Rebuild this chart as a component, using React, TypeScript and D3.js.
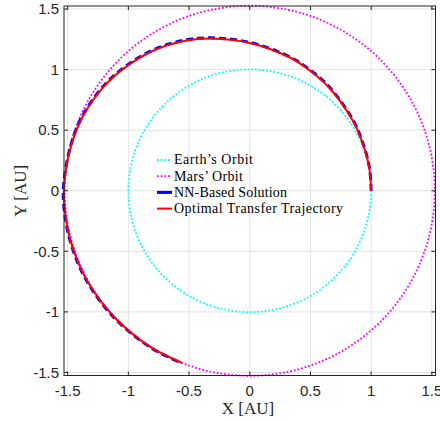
import React from "react";
import * as d3 from "d3";

const tickValues = [-1.5, -1, -0.5, 0, 0.5, 1, 1.5];
const tickLabels = ["-1.5", "-1", "-0.5", "0", "0.5", "1", "1.5"];
const earthRadius = 1.0;
const marsRadius = 1.524;

const transferX = [1.0, 0.982, 0.919, 0.847, 0.657, 0.5, 0.33, 0.0, -0.33, -0.519, -0.738, -0.98, -1.212, -1.421, -1.529, -1.509, -1.44, -1.326, -1.117, -0.818, -0.559];
const transferY = [0.0, 0.202, 0.424, 0.582, 0.848, 0.989, 1.1, 1.22, 1.257, 1.241, 1.18, 1.051, 0.849, 0.517, 0.053, -0.266, -0.524, -0.766, -1.042, -1.289, -1.42];
const nnX = [1.0, 0.984, 0.921, 0.85, 0.66, 0.503, 0.332, 0.0, -0.332, -0.522, -0.742, -0.984, -1.216, -1.425, -1.533, -1.513, -1.443, -1.329, -1.12, -0.82, -0.561];
const nnY = [0.0, 0.202, 0.425, 0.585, 0.852, 0.993, 1.104, 1.225, 1.262, 1.246, 1.185, 1.055, 0.852, 0.519, 0.053, -0.267, -0.526, -0.768, -1.045, -1.292, -1.423];

const legendLabels = ["Earth\u2019s Orbit", "Mars\u2019 Orbit", "NN-Based Solution", "Optimal Transfer Trajectory"];
const legendWidths = [79, 69, 113, 169];

export default function App() {
  const W = 440, H = 421;
  const left = 64, right = 435.5, top = 6, bottom = 375.5;
  const x = d3.scaleLinear().domain([-1.53, 1.53]).range([left, right]);
  const y = d3.scaleLinear().domain([-1.525, 1.525]).range([bottom, top]);
  const axisColor = "#262626";
  const gridColor = "#e3e3e3";

  const line = d3.line<[number, number]>().x(d => x(d[0])).y(d => y(d[1])).curve(d3.curveCatmullRom.alpha(0.5));
  const trPts: [number, number][] = transferX.map((v, i) => [v, transferY[i]]);
  const nnPts: [number, number][] = nnX.map((v, i) => [v, nnY[i]]);

  const sans = "'Liberation Sans', Arial, sans-serif";
  const serif = "'Liberation Serif', 'Times New Roman', serif";
  const tickLen = 4;
  const dotDash = "1.8 1.9";

  const legendStyles = [
    { stroke: "#00ffff", width: 1.8, dash: dotDash },
    { stroke: "#ff00ff", width: 1.8, dash: dotDash },
    { stroke: "#0000ff", width: 3, dash: "" },
    { stroke: "#ff0000", width: 2, dash: "" },
  ];

  return (
    <svg width={W} height={H} style={{ position: "absolute", left: 0, top: 0, background: "#fff" }}>
      <rect x={0} y={0} width={W} height={H} fill="#fff" />
      {tickValues.map((t, i) => (
        <g key={"g" + i}>
          <line x1={x(t)} x2={x(t)} y1={top} y2={bottom} stroke={gridColor} strokeWidth={1} />
          <line x1={left} x2={right} y1={y(t)} y2={y(t)} stroke={gridColor} strokeWidth={1} />
        </g>
      ))}
      <circle cx={x(0)} cy={y(0)} r={x(earthRadius) - x(0)} fill="none" stroke="#00ffff" strokeWidth={1.8} strokeDasharray={dotDash} />
      <circle cx={x(0)} cy={y(0)} r={x(marsRadius) - x(0)} fill="none" stroke="#ff00ff" strokeWidth={1.8} strokeDasharray={dotDash} />
      <path d={line(nnPts) || ""} fill="none" stroke="#0000ff" strokeWidth={3} strokeDasharray="7 4" />
      <path d={line(trPts) || ""} fill="none" stroke="#ff0000" strokeWidth={2} />
      <rect x={left} y={top} width={right - left} height={bottom - top} fill="none" stroke={axisColor} strokeWidth={1} />
      {tickValues.map((t, i) => (
        <g key={"t" + i}>
          <line x1={x(t)} x2={x(t)} y1={bottom} y2={bottom - tickLen} stroke={axisColor} />
          <line x1={x(t)} x2={x(t)} y1={top} y2={top + tickLen} stroke={axisColor} />
          <line x1={left} x2={left + tickLen} y1={y(t)} y2={y(t)} stroke={axisColor} />
          <line x1={right} x2={right - tickLen} y1={y(t)} y2={y(t)} stroke={axisColor} />
          <text x={x(t)} y={396} textAnchor="middle" fontFamily={sans} fontSize={15} fill={axisColor}>{tickLabels[i]}</text>
          <text x={59} y={y(t) + 5.3} textAnchor="end" fontFamily={sans} fontSize={15} fill={axisColor}>{tickLabels[i]}</text>
        </g>
      ))}
      <text x={248} y={414} textAnchor="middle" fontFamily={serif} fontSize={17} fill={axisColor}>X [AU]</text>
      <text transform={`translate(26,${y(0)}) rotate(-90)`} textAnchor="middle" fontFamily={serif} fontSize={17} fill={axisColor}>Y [AU]</text>
      {legendLabels.map((lab, i) => {
        const ly = 160 + i * 16.2;
        const s = legendStyles[i];
        return (
          <g key={"l" + i}>
            <line x1={157} x2={172} y1={ly} y2={ly} stroke={s.stroke} strokeWidth={s.width} strokeDasharray={s.dash || undefined} />
            <text x={174} y={ly + 4.3} fontFamily={serif} fontSize={14} fill="#000" textLength={legendWidths[i]} lengthAdjust="spacing">{lab}</text>
          </g>
        );
      })}
    </svg>
  );
}
